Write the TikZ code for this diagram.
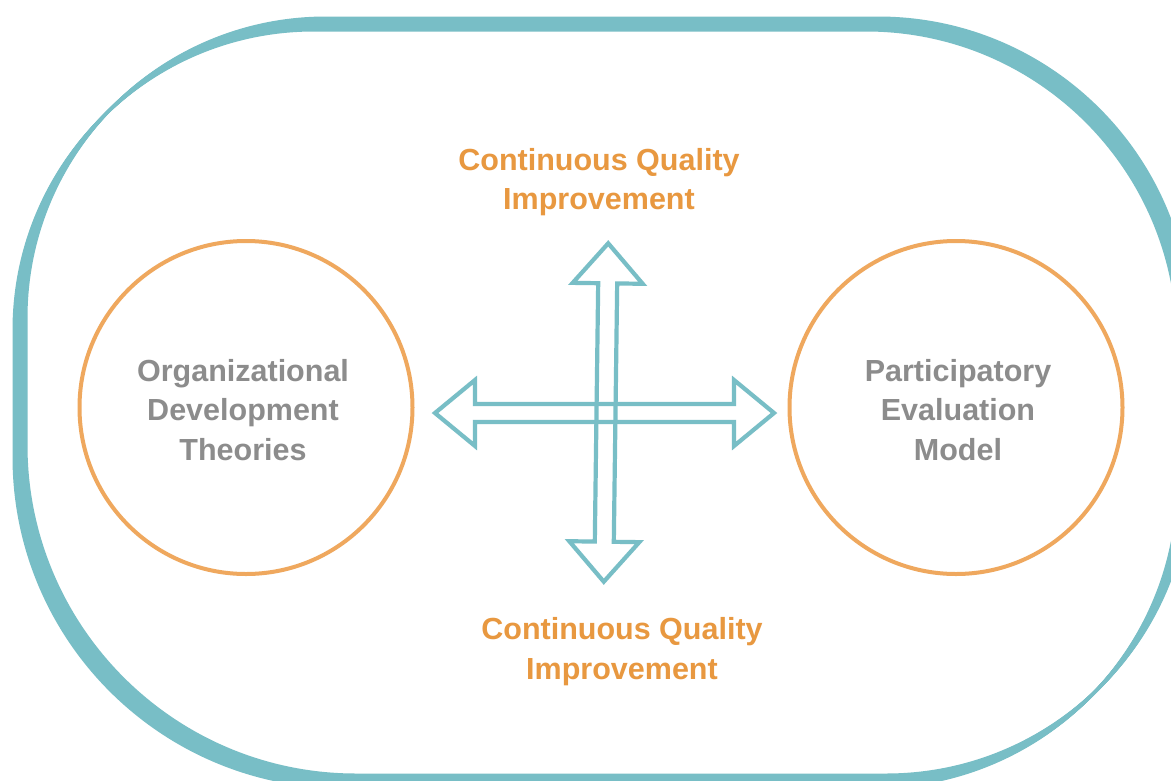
\documentclass[tikz,border=0pt]{standalone}
\usepackage{fontspec}
\setmainfont{Liberation Sans}
\definecolor{frameteal}{HTML}{78BEC6}
\definecolor{ringorange}{HTML}{EFA85E}
\definecolor{txtorange}{HTML}{E89840}
\definecolor{txtgray}{HTML}{8C8C8C}
\tikzset{
  framestroke/.style={draw=frameteal, line width=3pt, line join=round},
  ring/.style={circle, draw=ringorange, line width=4pt, minimum size=333pt, inner sep=0pt},
  graytext/.style={text=txtgray, font=\bfseries\fontsize{30.5}{39.5}\selectfont, align=center, anchor=base},
  orangetext/.style={text=txtorange, font=\bfseries\fontsize{30.5}{39.5}\selectfont, align=center, anchor=base},
  dblarrow/.style={draw=frameteal, line width=4.2pt, line join=miter, miter limit=10}
}
\begin{document}
\begin{tikzpicture}[x=1pt,y=-1pt]
\useasboundingbox (0,0) rectangle (1171,780);
\clip (0,0) rectangle (1171,780);
\fill[white] (0,0) rectangle (1171,780);
% outer brush frame
\foreach \t in {-6,-5,...,6}{
  \draw[framestroke, shift={(\t,-\t)}]
    (320,24) -- (872,24) arc[start angle=270, end angle=360, radius=312]
    -- (1184,477) arc[start angle=0, end angle=90, radius=304]
    -- (350,781) arc[start angle=90, end angle=180, radius=330]
    -- (20,324) arc[start angle=180, end angle=270, radius=300] -- cycle;
}
% circles
\node[ring] (left) at (246,407.5) {};
\node[ring] (right) at (956,407.5) {};
% texts (anchor base = baseline of last line)
\node[graytext] (ltxt) at (243,460) {Organizational\\Development\\Theories};
\node[graytext] (rtxt) at (958,460) {Participatory\\Evaluation\\Model};
\node[orangetext] (ttxt) at (599,209.5) {Continuous Quality\\Improvement};
\node[orangetext] (btxt) at (622,679) {Continuous Quality\\Improvement};
% arrows
\coordinate (hc) at (604.5,413);
\coordinate (vc) at (606,412.5);
\begin{scope}[shift={(hc)}]
\draw[dblarrow] (-169.5,0) -- (-129.5,-33) -- (-129.5,-9) -- (129.5,-9) -- (129.5,-33)
  -- (169.5,0) -- (129.5,33) -- (129.5,9) -- (-129.5,9) -- (-129.5,33) -- cycle;
\end{scope}
\begin{scope}[shift={(vc)}, rotate=-0.75]
\draw[dblarrow] (0,-169.2) -- (35,-129.2) -- (9.5,-129.2) -- (9.5,129.2) -- (35,129.2)
  -- (0,169.2) -- (-35,129.2) -- (-9.5,129.2) -- (-9.5,-129.2) -- (-35,-129.2) -- cycle;
\end{scope}
\end{tikzpicture}
\end{document}
